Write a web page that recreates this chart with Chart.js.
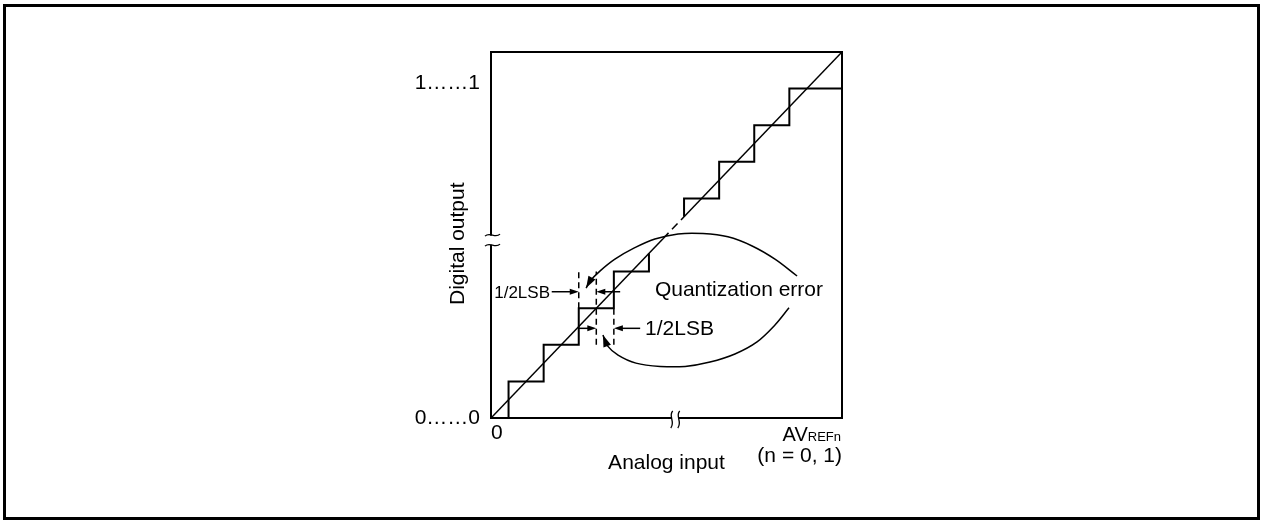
<!DOCTYPE html>
<html>
<head>
<meta charset="utf-8">
<script src="https://cdn.jsdelivr.net/npm/chart.js@4.4.1/dist/chart.umd.min.js"></script>
<style>
  html, body { margin: 0; padding: 0; background: #fff; }
  #wrap { position: relative; width: 1266px; height: 522px; overflow: hidden; }
  #chart { position: absolute; left: 0; top: 0; }
  #frame { position: absolute; left: 3px; top: 4px; width: 1257px; height: 516px;
           border: 3px solid #000; box-sizing: border-box; pointer-events: none; }
</style>
</head>
<body>
<div id="wrap">
  <canvas id="chart" width="1266" height="522"></canvas>
  <div id="frame"></div>
</div>
<script>
// 数据：横轴为模拟输入（LSB），纵轴为数字输出（LSB）
const inputMax = 10;
const lowerInput = [0, 0.5, 1.5, 2.5, 3.5, 4.5];
const lowerOutput = [0, 1, 2, 3, 4, 4.5];
const upperInput = [5.5, 6.5, 7.5, 8.5, 10];
const upperOutput = [5.5, 6, 7, 8, 9];
const idealInput = [0, 4.9, 5.5, 10];       // 理想直线，第二段为虚线
const halfLsbX = [2.5, 3, 3.5];             // 1/2LSB 辅助虚线
const halfLsbFrom = [3, 2, 2];
const halfLsbTo = [4, 4, 3];
const upperArcX = [8.72, 8.09, 7.44, 6.75, 6.04, 5.33, 4.67, 4.07, 3.53, 3.11, 2.82, 2.71];
const upperArcY = [3.88, 4.34, 4.70, 4.95, 5.04, 5.03, 4.89, 4.64, 4.34, 4.02, 3.74, 3.55];
const lowerArcX = [8.49, 8.09, 7.58, 6.95, 6.24, 5.53, 4.82, 4.13, 3.62, 3.30, 3.19];
const lowerArcY = [3.01, 2.54, 2.08, 1.75, 1.53, 1.41, 1.41, 1.50, 1.72, 1.99, 2.27];
const yTickValues = [0, 9.15];
const yTickLabels = ['0……0', '1……1'];
const xTickValues = [0, 10];
const xTickLabels = ['0', ['', '(n = 0, 1)']];

const FONT = '"Liberation Sans", Arial, Helvetica, sans-serif';
Chart.defaults.font.family = FONT;
Chart.defaults.color = '#000';

function pts(xs, ys) {
    return xs.map((x, i) => ({ x: x, y: ys[i] }));
}

const datasets = [
    { data: pts(lowerInput, lowerOutput), stepped: 'before', borderWidth: 2 },
    { data: pts(upperInput, upperOutput), stepped: 'after', borderWidth: 2 },
    {
        data: idealInput.map(x => ({ x: x, y: x })),
        borderWidth: 1.5,
        segment: { borderDash: ctx => ctx.p0DataIndex === 1 ? [8, 5] : undefined }
    },
    ...halfLsbX.map((x, i) => ({
        data: [{ x: x, y: halfLsbFrom[i] }, { x: x, y: halfLsbTo[i] }],
        borderDash: [6, 4],
        borderWidth: 1.5
    })),
    { data: pts(upperArcX, upperArcY), tension: 0.35, borderWidth: 1.5 },
    { data: pts(lowerArcX, lowerArcY), tension: 0.35, borderWidth: 1.5 }
];

// 注释：箭头、文字、断轴符号
const arrows = [
    { y: 3.45, from: 1.73, to: 2.5 },
    { y: 3.45, from: 3.68, to: 3.0 },
    { y: 2.45, from: 2.5, to: 3.0 },
    { y: 2.45, from: 4.25, to: 3.5 }
];
const notes = [
    { text: '1/2LSB', x: 1.68, y: 3.4, size: 17, align: 'right' },
    { text: 'Quantization error', x: 4.67, y: 3.48, size: 21, align: 'left' },
    { text: '1/2LSB', x: 4.39, y: 2.42, size: 21, align: 'left' }
];
const xBreakAt = 5.25;
const yBreakAt = 4.86;

function arrowHead(ctx, x, y, ang, len, half) {
    const c = Math.cos(ang), s = Math.sin(ang);
    ctx.beginPath();
    ctx.moveTo(x, y);
    ctx.lineTo(x - len * c + half * s, y - len * s - half * c);
    ctx.lineTo(x - len * c - half * s, y - len * s + half * c);
    ctx.closePath();
    ctx.fill();
}

const decorPlugin = {
    id: 'decor',
    afterDraw(chart) {
        const { ctx, chartArea: a, scales: { x: xs, y: ys } } = chart;
        const px = v => xs.getPixelForValue(v);
        const py = v => ys.getPixelForValue(v);
        ctx.save();
        ctx.strokeStyle = '#000';
        ctx.fillStyle = '#000';

        // 图框
        ctx.lineWidth = 2;
        ctx.strokeRect(a.left, a.top, a.right - a.left, a.bottom - a.top);

        // 断轴符号
        const bx = px(xBreakAt), by = a.bottom;
        ctx.fillStyle = '#fff';
        ctx.fillRect(bx - 3.5, by - 3, 7, 6);
        const ly = py(yBreakAt), lx = a.left;
        ctx.fillRect(lx - 3, ly - 4.5, 6, 9);
        ctx.fillStyle = '#000';
        ctx.lineWidth = 1.3;
        [bx - 3.5, bx + 3.5].forEach(x => {
            ctx.beginPath();
            ctx.moveTo(x + 1, by - 7);
            ctx.bezierCurveTo(x - 4, by - 2, x + 4, by + 4, x - 1, by + 10);
            ctx.stroke();
        });
        [ly - 5, ly + 5].forEach(y => {
            ctx.beginPath();
            ctx.moveTo(lx - 6, y + 1);
            ctx.bezierCurveTo(lx - 1, y - 4, lx + 4, y + 4, lx + 9, y - 1);
            ctx.stroke();
        });

        // 水平箭头
        ctx.lineWidth = 1.5;
        arrows.forEach(ar => {
            const y = py(ar.y), x0 = px(ar.from), x1 = px(ar.to);
            const dir = x1 > x0 ? 1 : -1;
            ctx.beginPath();
            ctx.moveTo(x0, y);
            ctx.lineTo(x1 - dir * 6, y);
            ctx.stroke();
            arrowHead(ctx, x1, y, dir > 0 ? 0 : Math.PI, 9, 3);
        });

        // 曲线箭头头部
        [[upperArcX, upperArcY], [lowerArcX, lowerArcY]].forEach(([cx, cy]) => {
            const n = cx.length;
            const tx = px(cx[n - 1]), ty = py(cy[n - 1]);
            const sx = px(cx[n - 2]), sy = py(cy[n - 2]);
            arrowHead(ctx, tx, ty, Math.atan2(ty - sy, tx - sx), 12, 4);
        });

        // 文字
        ctx.textBaseline = 'middle';
        notes.forEach(nt => {
            ctx.font = nt.size + 'px ' + FONT;
            ctx.textAlign = nt.align;
            ctx.fillText(nt.text, px(nt.x), py(nt.y));
        });

        // AVREFn 刻度文字（下标字号较小）
        ctx.textBaseline = 'alphabetic';
        ctx.textAlign = 'right';
        const baseY = a.bottom + 23;
        ctx.font = '13px ' + FONT;
        const w = ctx.measureText('REFn').width;
        ctx.fillText('REFn', a.right - 1, baseY);
        ctx.font = '20px ' + FONT;
        ctx.fillText('AV', a.right - 1 - w, baseY);

        ctx.restore();
    }
};

new Chart(document.getElementById('chart'), {
    type: 'line',
    data: { datasets: datasets },
    options: {
        responsive: false,
        animation: false,
        events: [],
        layout: { padding: { left: 390, right: 424, top: 52, bottom: 34 } },
        plugins: { legend: { display: false }, tooltip: { enabled: false } },
        elements: {
            point: { radius: 0 },
            line: { borderColor: '#000', fill: false, borderCapStyle: 'butt', borderJoinStyle: 'miter' }
        },
        scales: {
            x: {
                type: 'linear', min: 0, max: inputMax,
                grid: { display: false, drawTicks: false },
                border: { display: false },
                afterBuildTicks: s => { s.ticks = xTickValues.map(v => ({ value: v })); },
                afterFit: s => { s.height = 70; },
                ticks: {
                    autoSkip: false, maxRotation: 0, align: 'inner', padding: 4,
                    font: { size: 21, lineHeight: 1.1 },
                    callback: (v, i) => xTickLabels[i]
                },
                title: { display: true, text: 'Analog input', font: { size: 21 }, padding: { top: 0, bottom: 12.4 } }
            },
            y: {
                type: 'linear', min: 0, max: inputMax,
                grid: { display: false, drawTicks: false },
                border: { display: false },
                afterBuildTicks: s => { s.ticks = yTickValues.map(v => ({ value: v })); },
                afterFit: s => { s.width = 101; },
                ticks: {
                    autoSkip: false, padding: 11,
                    font: { size: 21 },
                    callback: (v, i) => yTickLabels[i]
                },
                title: { display: true, text: 'Digital output   ', font: { size: 21 }, padding: { top: 55.4, bottom: 0 } }
            }
        }
    },
    plugins: [decorPlugin]
});
</script>
</body>
</html>
